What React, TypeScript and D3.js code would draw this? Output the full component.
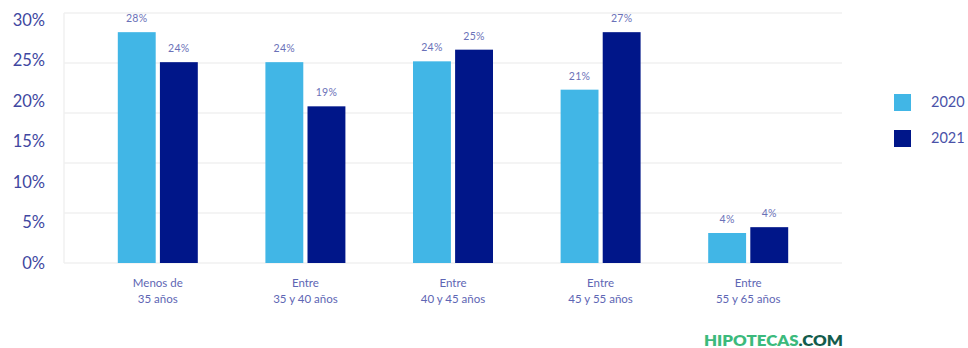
import React from "react";
import * as d3 from "d3";

const categories: string[][] = [
  ["Menos de", "35 años"],
  ["Entre", "35 y 40 años"],
  ["Entre", "40 y 45 años"],
  ["Entre", "45 y 55 años"],
  ["Entre", "55 y 65 años"],
];
const series = ["2020", "2021"];
const values2020 = [27.7, 24.1, 24.2, 20.8, 3.6];
const values2021 = [24.1, 18.8, 25.6, 27.7, 4.3];
const labels2020 = ["28%", "24%", "24%", "21%", "4%"];
const labels2021 = ["24%", "19%", "25%", "27%", "4%"];
const yTickLabels = [0, 5, 10, 15, 20, 25, 30];
const gridTicks = [0, 6, 12, 18, 24, 30];

const colors = ["#41b6e6", "#001689"];

export default function App() {
  const W = 968;
  const H = 348;
  const plotLeft = 64;
  const plotRight = 842;
  const y = d3.scaleLinear().domain([0, 30]).range([263, 13]);
  const yLabel = d3.scaleLinear().domain([0, 30]).range([263, 20]);
  const x0 = d3
    .scaleBand<number>()
    .domain(categories.map((_, i) => i))
    .range([84, 822])
    .paddingInner(0)
    .paddingOuter(0);
  const groupW = 80;
  const x1 = d3.scaleBand<number>().domain([0, 1]).range([0, groupW]).paddingInner(0.1);
  const all = [values2020, values2021];
  const labs = [labels2020, labels2021];
  const textColor = "#4047a0";
  return (
    <svg
      width={W}
      height={H}
      style={{ position: "absolute", left: 0, top: 0, background: "#fff" }}
      fontFamily="Lato, 'Open Sans', sans-serif"
    >
      {gridTicks.map((t) => (
        <line
          key={"g" + t}
          x1={plotLeft}
          x2={plotRight}
          y1={y(t)}
          y2={y(t)}
          stroke="#f1f1f1"
          strokeWidth={1.5}
        />
      ))}
      <line x1={plotLeft} x2={plotLeft} y1={y(30)} y2={y(0)} stroke="#f1f1f1" strokeWidth={1.5} />
      {yTickLabels.map((t) => (
        <text
          key={"yl" + t}
          x={45}
          y={yLabel(t)}
          dy="0.36em"
          textAnchor="end"
          fontSize={16.5}
          fill={textColor}
        >
          {t}%
        </text>
      ))}
      {categories.map((cat, i) => {
        const gx = (x0(i) as number) + x0.bandwidth() / 2 - groupW / 2;
        return (
          <g key={"c" + i}>
            {all.map((vals, s) => {
              const bx = gx + (x1(s) as number);
              const bw = x1.bandwidth();
              const top = y(vals[i]);
              return (
                <g key={"b" + s}>
                  <rect x={bx} y={top} width={bw} height={y(0) - top} fill={colors[s]} />
                  <text
                    x={bx + bw / 2}
                    y={top - 10}
                    textAnchor="middle"
                    fontSize={10.5}
                    fill="#6a71b8"
                    letterSpacing={0.3}
                  >
                    {labs[s][i]}
                  </text>
                </g>
              );
            })}
            {cat.map((line, li) => (
              <text
                key={"t" + li}
                x={gx + groupW / 2}
                y={287 + li * 15.5}
                textAnchor="middle"
                fontSize={11.5}
                fill="#5e66b4"
              >
                {line}
              </text>
            ))}
          </g>
        );
      })}
      {series.map((s, i) => (
        <g key={"lg" + s}>
          <rect x={894} y={94 + i * 36} width={17} height={17} fill={colors[i]} />
          <text x={931} y={107 + i * 36} fontSize={14.5} fill="#4a52a8">
            {s}
          </text>
        </g>
      ))}
      <text x={704} y={346} fontSize={14} fontWeight={800} textLength={139} lengthAdjust="spacingAndGlyphs">
        <tspan fill="#3cba7c">HIPOTECAS</tspan>
        <tspan fill="#135c4c">.COM</tspan>
      </text>
    </svg>
  );
}
